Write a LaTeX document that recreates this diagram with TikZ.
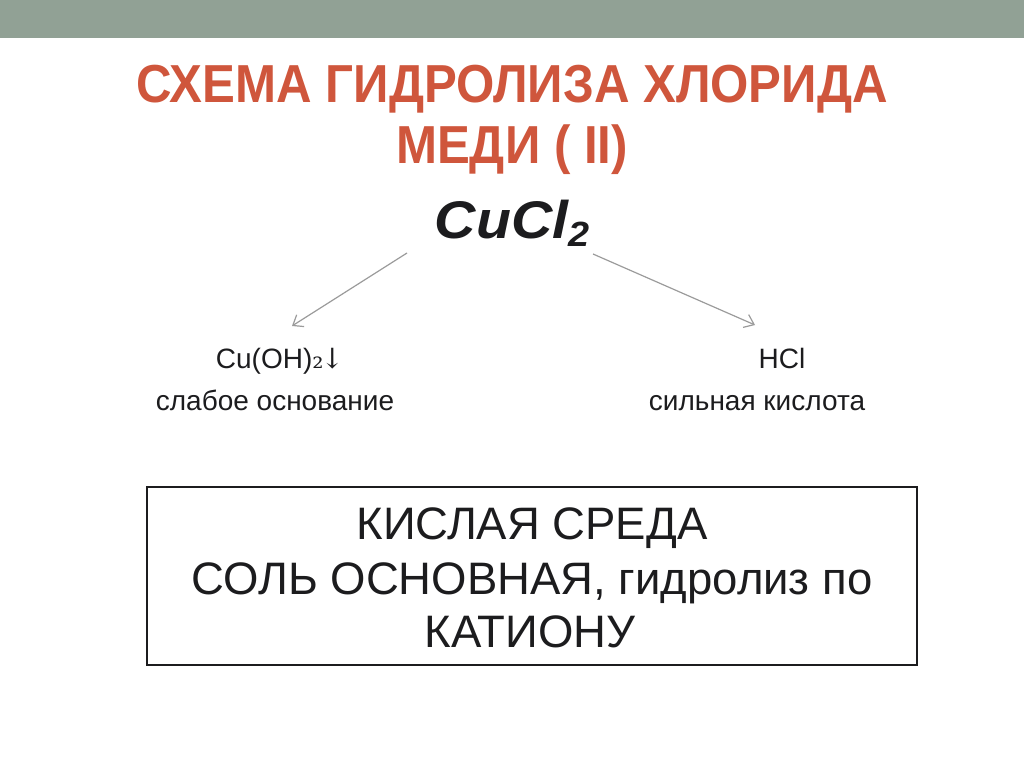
\documentclass[tikz,border=0pt]{standalone}
\usepackage{fontspec}
\setmainfont{Liberation Sans}
\newfontfamily\titlefont[FakeStretch=0.92]{Liberation Sans}
\newfontfamily\wideitfont[FakeStretch=1.08]{Liberation Sans}
\newfontfamily\symfont{DejaVu Serif}
\usetikzlibrary{arrows.meta}
\definecolor{barcol}{RGB}{145,161,149}
\definecolor{titlered}{RGB}{207,86,60}
\definecolor{arrowgray}{RGB}{155,155,155}
\definecolor{ink}{RGB}{28,28,30}
\tikzset{
  titletext/.style={anchor=base, inner sep=0pt, text=titlered, font=\titlefont\bfseries\fontsize{53.5}{60}\selectfont},
  formula/.style={anchor=base, inner sep=0pt, text=ink, font=\wideitfont\bfseries\itshape\fontsize{53}{60}\selectfont},
  label/.style={anchor=base, inner sep=0pt, text=ink, font=\fontsize{28}{32}\selectfont},
  boxtext/.style={anchor=base, inner sep=0pt, text=ink, font=\fontsize{45.5}{52}\selectfont},
  conn/.style={draw=arrowgray, line width=1.2pt, -{Straight Barb[length=9pt,width=14pt,line width=1.2pt]}},
}
\begin{document}
\begin{tikzpicture}[x=1pt,y=-1pt]
\useasboundingbox (0,0) rectangle (1024,767);
\fill[barcol] (0,0) rectangle (1024,38);
\node[titletext] (t1) at (512,103) {СХЕМА ГИДРОЛИЗА ХЛОРИДА};
\node[titletext] (t2) at (512,164) {МЕДИ ( II)};
\node[formula] (salt) at (512,238) {CuCl\raisebox{-9pt}{\fontsize{35}{40}\selectfont 2}};
\coordinate (ls) at (407,253);
\coordinate (rs) at (593,254);
\coordinate (le) at (292,326);
\coordinate (re) at (755,325);
\draw[conn] (ls) -- (le);
\draw[conn] (rs) -- (re);
\node[label] (base) at (280,368) {Cu(OH){\symfont ₂\kern-3pt↓}};
\node[label] (basetxt) at (275,410) {слабое основание};
\node[label] (acid) at (782,368) {HCl};
\node[label] (acidtxt) at (757,410) {сильная кислота};
\draw[ink, line width=2.8pt] (147,487) rectangle (917,665);
\node[boxtext] (b1) at (532,539) {КИСЛАЯ СРЕДА};
\node[boxtext] (b2) at (532,594) {СОЛЬ ОСНОВНАЯ, гидролиз по};
\node[boxtext] (b3) at (530,647) {КАТИОНУ};
\end{tikzpicture}
\end{document}
